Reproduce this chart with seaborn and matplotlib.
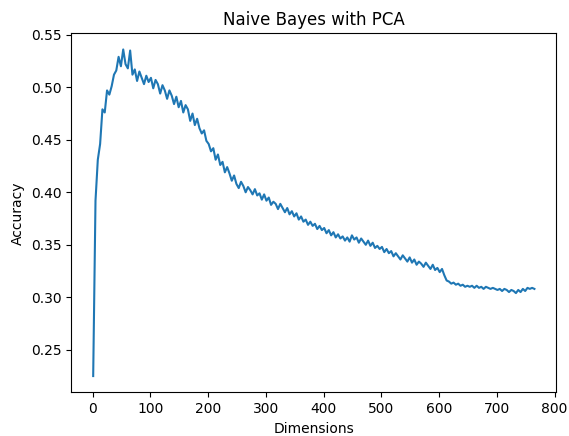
import numpy as np
import pandas as pd
import matplotlib
matplotlib.use("Agg")
import matplotlib.pyplot as plt
import seaborn as sns

# PCA dimensions kept (every 4th value)
dims = np.arange(1, 766, 4)

# Accuracy, grouped by range of dimensions
acc_1_97 = [0.225, 0.392, 0.431, 0.446, 0.479, 0.476, 0.497, 0.493, 0.501, 0.512,
            0.516, 0.529, 0.520, 0.536, 0.522, 0.518, 0.535, 0.512, 0.517, 0.506,
            0.515, 0.509, 0.503, 0.511, 0.505]
acc_101_197 = [0.509, 0.499, 0.507, 0.503, 0.494, 0.502, 0.497, 0.489, 0.497, 0.492,
               0.484, 0.491, 0.481, 0.487, 0.476, 0.483, 0.479, 0.468, 0.475, 0.464,
               0.470, 0.461, 0.456, 0.459, 0.449]
acc_201_297 = [0.446, 0.439, 0.442, 0.431, 0.436, 0.426, 0.429, 0.419, 0.424, 0.418,
               0.411, 0.416, 0.408, 0.404, 0.410, 0.406, 0.400, 0.405, 0.402, 0.398,
               0.403, 0.397, 0.399, 0.393, 0.398]
acc_301_397 = [0.392, 0.395, 0.388, 0.391, 0.389, 0.384, 0.389, 0.385, 0.381, 0.385,
               0.379, 0.382, 0.377, 0.380, 0.374, 0.377, 0.372, 0.374, 0.369, 0.372,
               0.368, 0.370, 0.365, 0.368, 0.364]
acc_401_497 = [0.366, 0.361, 0.364, 0.359, 0.362, 0.357, 0.360, 0.356, 0.358, 0.354,
               0.357, 0.353, 0.359, 0.355, 0.357, 0.352, 0.356, 0.353, 0.350, 0.354,
               0.349, 0.352, 0.347, 0.349, 0.346]
acc_501_597 = [0.348, 0.343, 0.346, 0.342, 0.344, 0.339, 0.342, 0.339, 0.336, 0.340,
               0.337, 0.334, 0.338, 0.333, 0.336, 0.331, 0.334, 0.332, 0.329, 0.333,
               0.330, 0.327, 0.331, 0.326, 0.328]
acc_601_697 = [0.324, 0.327, 0.321, 0.316, 0.315, 0.313, 0.314, 0.312, 0.313, 0.311,
               0.312, 0.310, 0.311, 0.310, 0.311, 0.309, 0.311, 0.309, 0.310, 0.308,
               0.310, 0.309, 0.308, 0.309, 0.308]
acc_701_765 = [0.307, 0.308, 0.306, 0.308, 0.307, 0.305, 0.307, 0.306, 0.304, 0.307,
               0.305, 0.308, 0.306, 0.309, 0.308, 0.309, 0.308]

accuracy = (acc_1_97 + acc_101_197 + acc_201_297 + acc_301_397
            + acc_401_497 + acc_501_597 + acc_601_697 + acc_701_765)

df = pd.DataFrame({'Dimensions': dims, 'Accuracy': accuracy})

fig, ax = plt.subplots(figsize=(5.69, 4.36), dpi=100)
sns.lineplot(x='Dimensions', y='Accuracy', data=df, color='#1f77b4', linewidth=1.5, ax=ax)
ax.set_title('Naive Bayes with PCA')
ax.set_xlabel('Dimensions')
ax.set_ylabel('Accuracy')
fig.subplots_adjust(left=0.125, right=0.978, top=0.924, bottom=0.1)
fig.savefig('out.png', dpi=100)
